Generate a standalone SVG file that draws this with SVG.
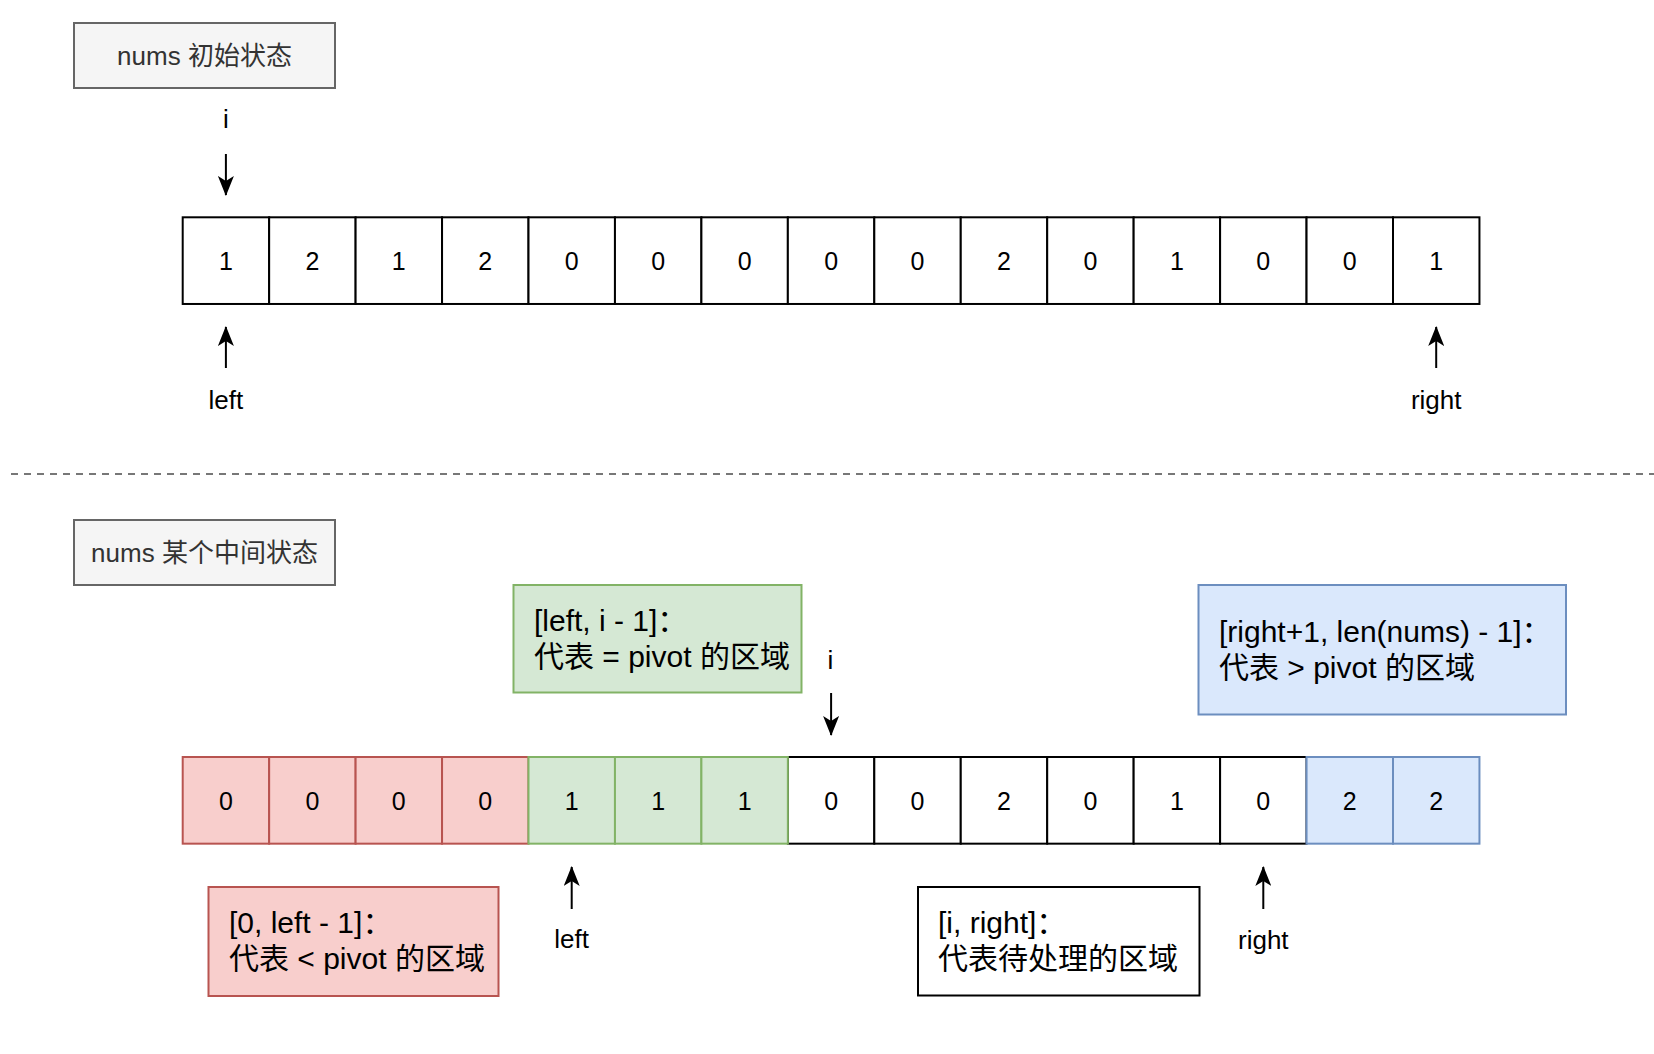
<svg xmlns="http://www.w3.org/2000/svg" width="1654" height="1054" viewBox="0 0 1654 1054">
<style>
text{font-family:"Liberation Sans","Noto Sans CJK SC",sans-serif;fill:#000}
.num{font-size:25px;text-anchor:middle;dominant-baseline:central}
.lbl{font-size:26px;text-anchor:middle;dominant-baseline:central}
.title{font-size:26px;text-anchor:middle;dominant-baseline:central;fill:#333333}
.box{font-size:30px;dominant-baseline:central}
.w{fill:#ffffff;stroke:#000000;stroke-width:2}
.r{fill:#f8cecc;stroke:#b85450;stroke-width:2}
.g{fill:#d5e8d4;stroke:#82b366;stroke-width:2}
.b{fill:#dae8fc;stroke:#6c8ebf;stroke-width:2}
.t{fill:#f5f5f5;stroke:#666666;stroke-width:2}
.arr{stroke:#000;stroke-width:2;fill:none;marker-end:url(#ah)}
</style>
<defs>
<marker id="ah" viewBox="0 0 20 16" refX="19" refY="8" markerWidth="20" markerHeight="16" markerUnits="userSpaceOnUse" orient="auto">
<path d="M0,0 L20,8 L0,16 L5,8 Z" fill="#000"/>
</marker>
</defs>
<rect width="1654" height="1054" fill="#ffffff"/>

<g id="title1"><rect class="t" x="74" y="23" width="261" height="65"/><text class="title" x="204.5" y="56">nums 初始状态</text></g>

<g id="array1">
<g id="a1c0"><rect class="w" x="182.7" y="217.3" width="86.45" height="86.67"/><text class="num" x="225.9" y="261">1</text></g>
<g id="a1c1"><rect class="w" x="269.15" y="217.3" width="86.45" height="86.67"/><text class="num" x="312.4" y="261">2</text></g>
<g id="a1c2"><rect class="w" x="355.6" y="217.3" width="86.45" height="86.67"/><text class="num" x="398.8" y="261">1</text></g>
<g id="a1c3"><rect class="w" x="442.05" y="217.3" width="86.45" height="86.67"/><text class="num" x="485.3" y="261">2</text></g>
<g id="a1c4"><rect class="w" x="528.5" y="217.3" width="86.45" height="86.67"/><text class="num" x="571.7" y="261">0</text></g>
<g id="a1c5"><rect class="w" x="614.95" y="217.3" width="86.45" height="86.67"/><text class="num" x="658.2" y="261">0</text></g>
<g id="a1c6"><rect class="w" x="701.4" y="217.3" width="86.45" height="86.67"/><text class="num" x="744.6" y="261">0</text></g>
<g id="a1c7"><rect class="w" x="787.85" y="217.3" width="86.45" height="86.67"/><text class="num" x="831.1" y="261">0</text></g>
<g id="a1c8"><rect class="w" x="874.3" y="217.3" width="86.45" height="86.67"/><text class="num" x="917.5" y="261">0</text></g>
<g id="a1c9"><rect class="w" x="960.75" y="217.3" width="86.45" height="86.67"/><text class="num" x="1004" y="261">2</text></g>
<g id="a1c10"><rect class="w" x="1047.2" y="217.3" width="86.45" height="86.67"/><text class="num" x="1090.4" y="261">0</text></g>
<g id="a1c11"><rect class="w" x="1133.65" y="217.3" width="86.45" height="86.67"/><text class="num" x="1176.9" y="261">1</text></g>
<g id="a1c12"><rect class="w" x="1220.1" y="217.3" width="86.45" height="86.67"/><text class="num" x="1263.3" y="261">0</text></g>
<g id="a1c13"><rect class="w" x="1306.55" y="217.3" width="86.45" height="86.67"/><text class="num" x="1349.8" y="261">0</text></g>
<g id="a1c14"><rect class="w" x="1393" y="217.3" width="86.45" height="86.67"/><text class="num" x="1436.2" y="261">1</text></g>
</g>

<g id="lbl-i1"><text class="lbl" x="225.9" y="119">i</text></g>
<g id="lbl-left1"><text class="lbl" x="225.9" y="400">left</text></g>
<g id="lbl-right1"><text class="lbl" x="1436.2" y="400">right</text></g>

<g id="title2"><rect class="t" x="74" y="520" width="261" height="65"/><text class="title" x="204.5" y="553">nums 某个中间状态</text></g>

<g id="green-note"><rect class="g" x="513.5" y="585" width="288" height="107.5"/><text class="box" x="534" y="620">[left, i - 1]：</text><text class="box" x="534" y="656">代表 = pivot 的区域</text></g>
<g id="blue-note"><rect class="b" x="1198.5" y="585" width="367.5" height="129.5"/><text class="box" x="1219" y="631">[right+1, len(nums) - 1]：</text><text class="box" x="1219" y="667">代表 &gt; pivot 的区域</text></g>
<g id="red-note"><rect class="r" x="208.5" y="887" width="290" height="109"/><text class="box" x="229" y="922">[0, left - 1]：</text><text class="box" x="229" y="958">代表 &lt; pivot 的区域</text></g>
<g id="white-note"><rect class="w" x="918" y="887" width="281.5" height="108.5"/><text class="box" x="938" y="922">[i, right]：</text><text class="box" x="938" y="958">代表待处理的区域</text></g>

<g id="array2">
<g id="a2c7"><rect class="w" x="787.85" y="757" width="86.45" height="86.67"/><text class="num" x="831.1" y="800.5">0</text></g>
<g id="a2c8"><rect class="w" x="874.3" y="757" width="86.45" height="86.67"/><text class="num" x="917.5" y="800.5">0</text></g>
<g id="a2c9"><rect class="w" x="960.75" y="757" width="86.45" height="86.67"/><text class="num" x="1004" y="800.5">2</text></g>
<g id="a2c10"><rect class="w" x="1047.2" y="757" width="86.45" height="86.67"/><text class="num" x="1090.4" y="800.5">0</text></g>
<g id="a2c11"><rect class="w" x="1133.65" y="757" width="86.45" height="86.67"/><text class="num" x="1176.9" y="800.5">1</text></g>
<g id="a2c12"><rect class="w" x="1220.1" y="757" width="86.45" height="86.67"/><text class="num" x="1263.3" y="800.5">0</text></g>
<g id="a2c0"><rect class="r" x="182.7" y="757" width="86.45" height="86.67"/><text class="num" x="225.9" y="800.5">0</text></g>
<g id="a2c1"><rect class="r" x="269.15" y="757" width="86.45" height="86.67"/><text class="num" x="312.4" y="800.5">0</text></g>
<g id="a2c2"><rect class="r" x="355.6" y="757" width="86.45" height="86.67"/><text class="num" x="398.8" y="800.5">0</text></g>
<g id="a2c3"><rect class="r" x="442.05" y="757" width="86.45" height="86.67"/><text class="num" x="485.3" y="800.5">0</text></g>
<g id="a2c4"><rect class="g" x="528.5" y="757" width="86.45" height="86.67"/><text class="num" x="571.7" y="800.5">1</text></g>
<g id="a2c5"><rect class="g" x="614.95" y="757" width="86.45" height="86.67"/><text class="num" x="658.2" y="800.5">1</text></g>
<g id="a2c6"><rect class="g" x="701.4" y="757" width="86.45" height="86.67"/><text class="num" x="744.6" y="800.5">1</text></g>
<g id="a2c13"><rect class="b" x="1306.55" y="757" width="86.45" height="86.67"/><text class="num" x="1349.8" y="800.5">2</text></g>
<g id="a2c14"><rect class="b" x="1393" y="757" width="86.45" height="86.67"/><text class="num" x="1436.2" y="800.5">2</text></g>
</g>

<g id="lbl-i2"><text class="lbl" x="830.5" y="660">i</text></g>
<g id="lbl-left2"><text class="lbl" x="571.7" y="939">left</text></g>
<g id="lbl-right2"><text class="lbl" x="1263.3" y="940">right</text></g>

<g id="connectors">
<line x1="11" y1="474" x2="1654" y2="474" stroke="#777777" stroke-width="2" stroke-dasharray="7 6"/>
<line class="arr" x1="225.9" y1="154" x2="225.9" y2="195"/>
<line class="arr" x1="225.9" y1="368" x2="225.9" y2="327"/>
<line class="arr" x1="1436.2" y1="368" x2="1436.2" y2="327"/>
<line class="arr" x1="831.1" y1="693" x2="831.1" y2="735"/>
<line class="arr" x1="571.7" y1="909" x2="571.7" y2="867"/>
<line class="arr" x1="1263.3" y1="909" x2="1263.3" y2="867"/>
</g>
</svg>
